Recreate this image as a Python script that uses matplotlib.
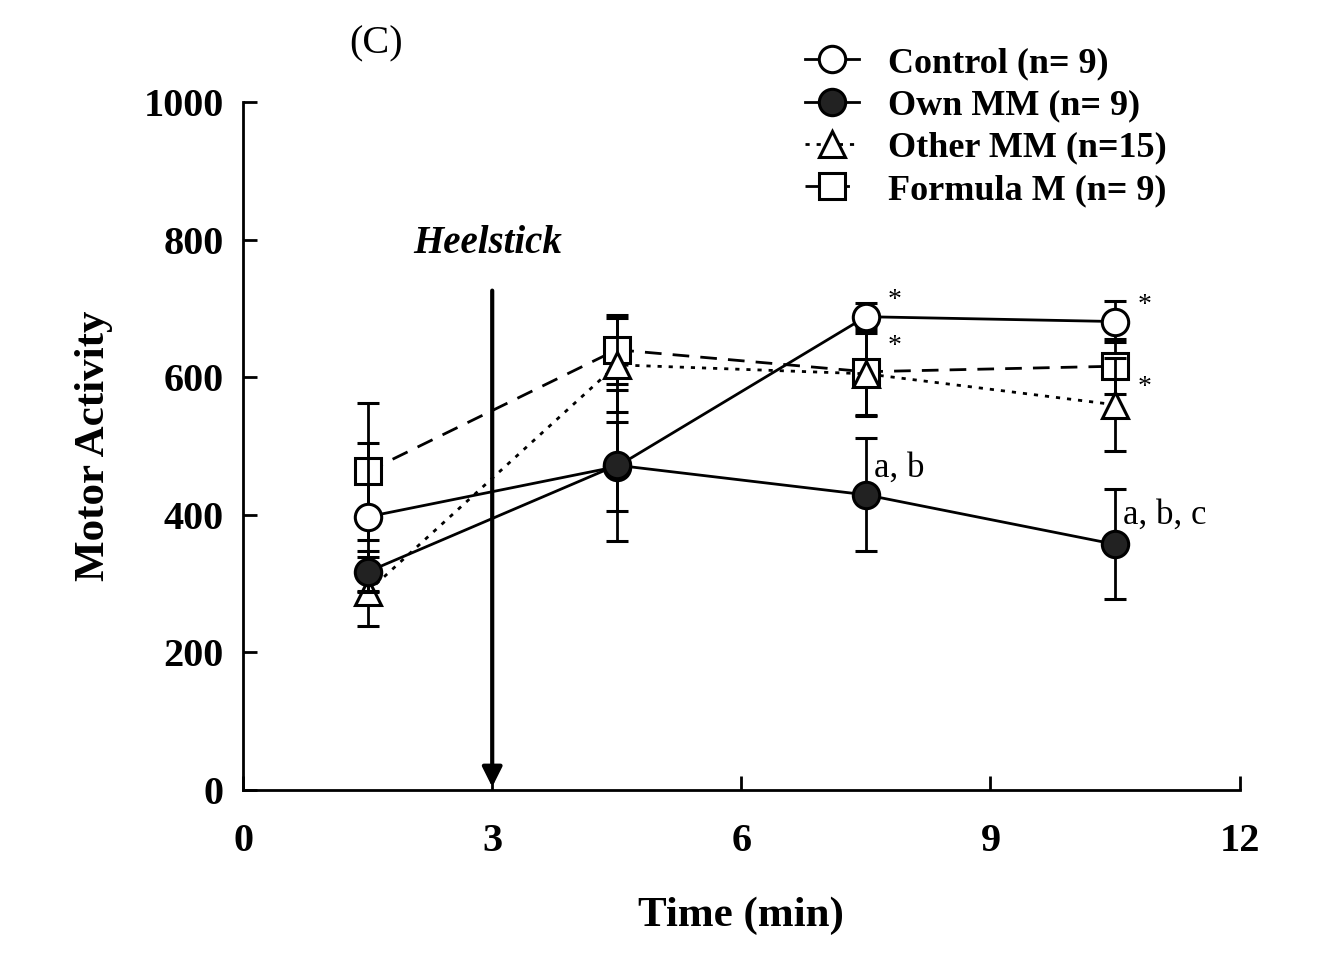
import numpy as np
import matplotlib.pyplot as plt
from matplotlib.lines import Line2D

plt.rcParams['font.family'] = ['Liberation Serif', 'DejaVu Serif']

# data
time_min = [1.5, 4.5, 7.5, 10.5]

control = [397, 470, 688, 681]
control_err = [108, 65, 20, 30]

own_mm = [317, 472, 429, 357]
own_mm_err = [30, 110, 82, 80]

other_mm = [288, 618, 605, 560]
other_mm_err = [50, 68, 60, 68]

formula_m = [463, 640, 608, 616]
formula_m_err = [100, 50, 65, 40]

fig = plt.figure(figsize=(13.43, 9.55), dpi=100)
ax = fig.add_axes([0.181, 0.173, 0.742, 0.72])

ms = 19
styles = [
    ('Control (n= 9)', control, control_err, '-', 'o', 'white', 5),
    ('Own MM (n= 9)', own_mm, own_mm_err, '-', 'o', '#222222', 6),
    ('Other MM (n=15)', other_mm, other_mm_err, (0, (1.5, 2.5)), '^', 'white', 4),
    ('Formula M (n= 9)', formula_m, formula_m_err, (0, (6, 4)), 's', 'white', 3),
]

handles = []
for name, vals, err, ls, mk, fc, z in styles:
    ax.errorbar(time_min, vals, yerr=err, color='k', ls=ls, lw=2,
                marker=mk, ms=ms, mfc=fc, mec='k', mew=2.2, capsize=8,
                elinewidth=2, capthick=2, zorder=z)
    handles.append(Line2D([], [], color='k', ls=ls, lw=2, marker=mk, ms=ms,
                          mfc=fc, mec='k', mew=2.2))

ax.set_xlim(0, 12)
ax.set_ylim(0, 1000)
ax.set_xticks([0, 3, 6, 9, 12])
ax.set_yticks([0, 200, 400, 600, 800, 1000])
ax.spines['top'].set_visible(False)
ax.spines['right'].set_visible(False)
ax.spines['left'].set_linewidth(2)
ax.spines['bottom'].set_linewidth(2)
ax.tick_params(direction='in', length=10, width=2, labelsize=29)
ax.tick_params(axis='x', pad=24)
ax.tick_params(axis='y', pad=14)
for t in ax.get_xticklabels() + ax.get_yticklabels():
    t.set_fontweight('bold')

ax.set_xlabel('Time (min)', fontsize=31, fontweight='bold', labelpad=26)
ax.set_ylabel('Motor Activity', fontsize=31, fontweight='bold', labelpad=22)

# heelstick arrow
ax.annotate('', xy=(3, 0), xytext=(3, 730),
            arrowprops=dict(arrowstyle='-|>', color='k', lw=3, mutation_scale=30))
ax.text(2.95, 795, 'Heelstick', fontsize=28, fontweight='bold', style='italic',
        ha='center', va='center')

ax.text(1.6, 1085, '(C)', fontsize=29, ha='center', va='center', clip_on=False)

# significance marks
ax.text(7.85, 712, '*', fontsize=20, ha='center', va='center')
ax.text(7.85, 645, '*', fontsize=20, ha='center', va='center')
ax.text(10.85, 705, '*', fontsize=20, ha='center', va='center')
ax.text(10.85, 585, '*', fontsize=20, ha='center', va='center')
ax.text(7.6, 468, 'a, b', fontsize=25, ha='left', va='center')
ax.text(10.6, 400, 'a, b, c', fontsize=25, ha='left', va='center')

leg = ax.legend(handles, [s[0] for s in styles],
                loc='upper left', bbox_to_anchor=(0.575, 0.985), bbox_transform=fig.transFigure,
                frameon=False, fontsize=26, handlelength=1.5, labelspacing=0.25,
                handletextpad=0.8)
for t in leg.get_texts():
    t.set_fontweight('bold')

fig.savefig('out.png', dpi=100)
